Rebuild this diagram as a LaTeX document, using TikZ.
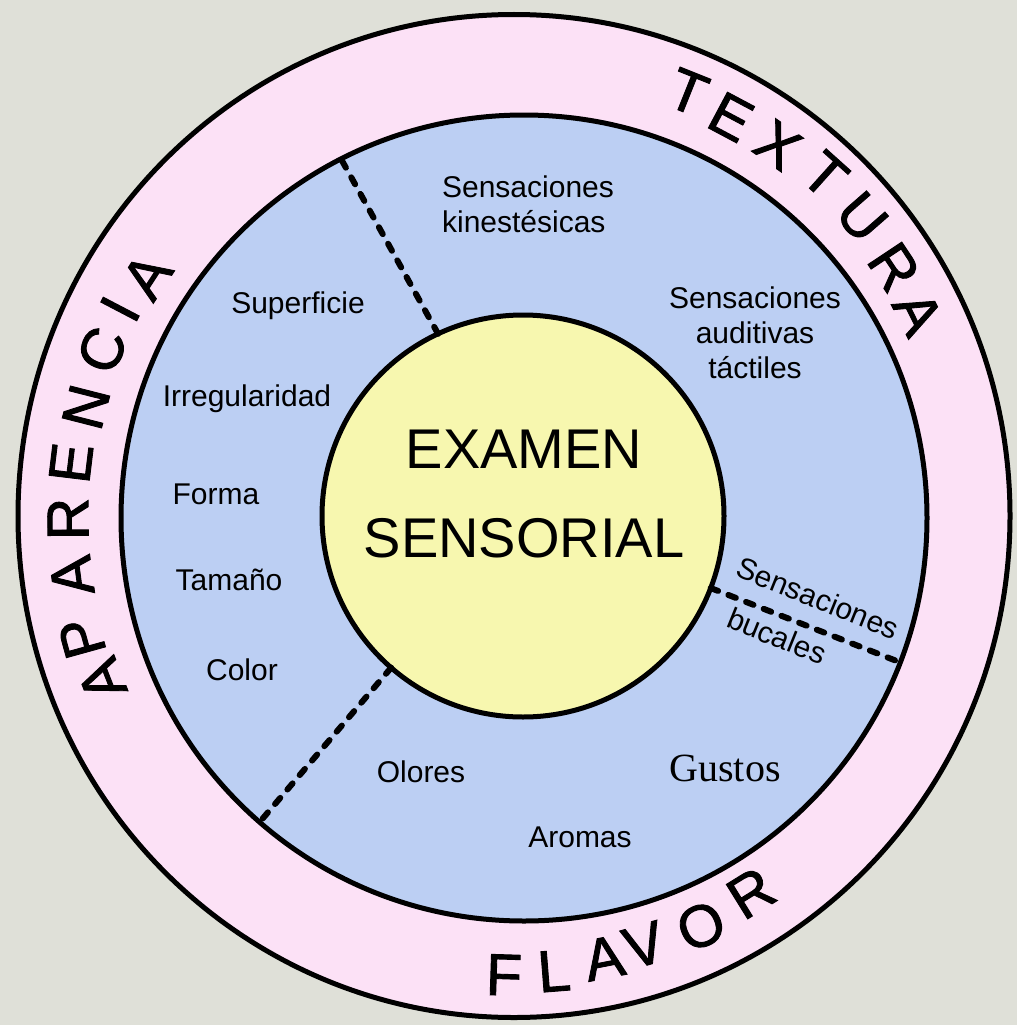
\documentclass[tikz,border=0pt]{standalone}
\usepackage{fontspec}
\setmainfont{Liberation Sans}
\newfontfamily\gustosfont{Liberation Serif}
\newfontface\ringface[FakeBold=1.5]{Liberation Sans}
\usetikzlibrary{shapes.geometric}
\definecolor{bgc}{RGB}{223,224,216}
\definecolor{ringpink}{RGB}{252,225,246}
\definecolor{discblue}{RGB}{188,207,243}
\definecolor{coreyellow}{RGB}{247,247,175}
\begin{document}
\begin{tikzpicture}[x=1pt,y=-1pt,
  ring/.style={draw=black, line width=5pt, inner sep=0pt, outer sep=0pt},
  divider/.style={draw=black, line width=6pt, dash pattern=on 8pt off 11pt, line cap=round},
  lbl/.style={font=\fontsize{30}{35}\selectfont, inner sep=0pt, text=black},
  ringtxt/.style={font=\ringface\fontsize{59}{59}\selectfont, inner sep=0pt, text=black},
]
\fill[bgc] (0,0) rectangle (1017,1025);
\useasboundingbox (0,0) rectangle (1017,1025);

% three nested discs
\node[ring, ellipse, fill=ringpink, minimum width=992pt, minimum height=1003pt] (outer) at (514,516) {};
\node[ring, circle, fill=discblue, minimum size=806pt] (disc) at (524,518) {};
\node[ring, circle, fill=coreyellow, minimum size=402pt] (core) at (523,516) {};

% sector dividers
\draw[divider] (core.115.6) -- (disc.117.1);
\draw[divider] (core.229.7) -- (disc.229.7);
\draw[divider] (core.339.2) -- (disc.339.2);

% centre title
\node[align=center, inner sep=0pt, font=\fontsize{56}{89}\selectfont] (title) at (524,494) {EXAMEN\\SENSORIAL};

% sector labels
\node[lbl, align=left] (kin) at (528,204) {Sensaciones\\kinestésicas};
\node[lbl, align=center] (aud) at (755,333) {Sensaciones\\auditivas\\táctiles};
\node[lbl] (sup) at (298,306) {Superficie};
\node[lbl] (irr) at (247,399) {Irregularidad};
\node[lbl] (frm) at (216,494) {Forma};
\node[lbl] (tam) at (229,580) {Tamaño};
\node[lbl] (col) at (242,670) {Color};
\node[lbl] (olo) at (421,772) {Olores};
\node[lbl] (aro) at (580,837) {Aromas};
\node[lbl, font=\gustosfont\fontsize{40}{40}\selectfont] (gus) at (725,768) {Gustos};
\node[lbl, rotate=-22] (buc1) at (818,598) {Sensaciones};
\node[lbl, rotate=-22] (buc2) at (777,636) {bucales};

% lettering around the ring
\foreach \ch/\px/\py/\rt [count=\i] in {T/688/92/-21.8, E/731/117/-28, X/778/145/-35, T/825/175/-41.9, U/862/217/-48.9, R/894/267/-56.4, A/918/313/-63.5}
  \node[ringtxt, rotate=\rt] (tex\i) at (\px,\py) {\ch};
\foreach \ch/\px/\py/\rt [count=\i] in {A/102/680/111.4, P/82/638/105.5, A/72/576/97.5, R/68/519/90.3, E/71/463/83.1, N/86/407/75.7, C/102/350/68.1, I/120/309/62.4, A/147/276/56.9}
  \node[ringtxt, rotate=\rt] (apa\i) at (\px,\py) {\ch};
\foreach \ch/\px/\py/\rt [count=\i] in {F/504/975/-1.8, L/554/971/4.5, A/604/958/11, V/644/945/16.4, O/701/926/24.1, R/751/893/31.8}
  \node[ringtxt, rotate=\rt] (fla\i) at (\px,\py) {\ch};
\end{tikzpicture}
\end{document}
